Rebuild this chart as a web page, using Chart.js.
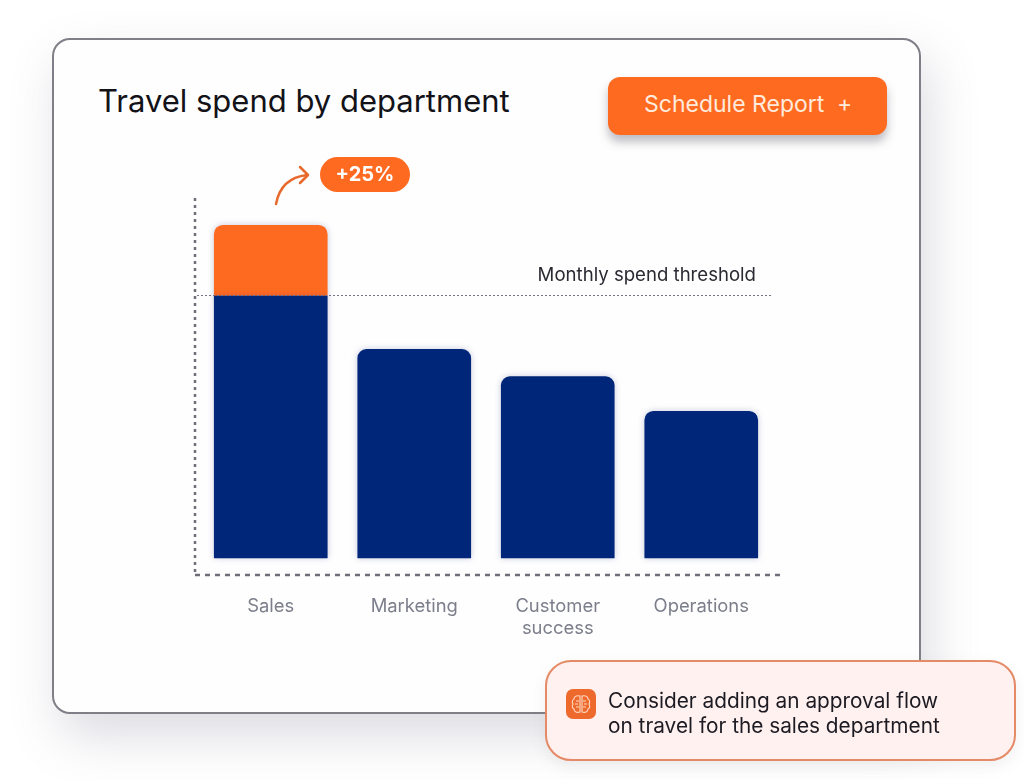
<!DOCTYPE html>
<html>
<head>
<meta charset="utf-8">
<title>Travel spend by department</title>
<script src="https://cdn.jsdelivr.net/npm/chart.js@4/dist/chart.umd.min.js"></script>
<style>
    html, body { margin: 0; padding: 0; background: #fff; }
    body { width: 1024px; height: 780px; position: relative; overflow: hidden; font-family: Inter, sans-serif; }

    .card {
        position: absolute; left: 52px; top: 38px; width: 865px; height: 672px;
        background: #fefefe; border: 2px solid #7f7f88; border-radius: 18px;
        box-shadow: 8px 22px 50px rgba(95, 95, 125, .22);
    }
    .title {
        position: absolute; left: 98px; top: 81px; font-size: 31px; line-height: 40px;
        color: #121218; letter-spacing: 0; white-space: nowrap;
    }
    .button {
        position: absolute; left: 608px; top: 77px; width: 279px; height: 58px;
        background: #ff6a21; border-radius: 12px; color: #ffeadc; font-size: 23px; line-height: 55px;
        box-shadow: 0 7px 10px rgba(70, 70, 90, .35); white-space: nowrap;
    }
    .button span { position: absolute; left: 36px; top: 0; }
    .button b { position: absolute; left: 229px; top: 0; font-weight: 400; }

    #chart { position: absolute; left: 150px; top: 180px; width: 680px; height: 470px; }

    .pill {
        position: absolute; left: 320px; top: 157px; width: 90px; height: 35px;
        background: #ff6a21; border-radius: 18px; color: #fff; text-align: center;
        font-size: 20px; font-weight: 700; line-height: 35px;
    }
    .arrow { position: absolute; left: 265px; top: 160px; }

    .callout {
        position: absolute; left: 545px; top: 660px; width: 467px; height: 97px;
        background: #fff1ef; border: 2px solid #e58a66; border-radius: 26px;
        box-shadow: 0 6px 14px rgba(120, 110, 110, .1);
    }
    .callout p {
        position: absolute; left: 61px; top: 26px; margin: 0; font-size: 20.8px; line-height: 25px;
        color: #1c1a22; white-space: nowrap;
    }
    .icon { position: absolute; left: 19px; top: 27px; }
</style>
</head>
<body>

<div class="card"></div>
<div class="title">Travel spend by department</div>
<div class="button"><span>Schedule Report</span><b>+</b></div>

<canvas id="chart" width="680" height="470"></canvas>

<svg class="arrow" width="60" height="50" fill="none" stroke="#e8692c" stroke-width="2.5" stroke-linecap="round" stroke-linejoin="round">
    <path d="M11 44 C14 28 24 17 42 15"/>
    <path d="M35 7 L43 15 L35 23"/>
</svg>
<div class="pill">+25%</div>

<div class="callout">
    <svg class="icon" width="30" height="30" fill="none" stroke="#ffd9c6" stroke-width="1.1">
        <rect width="30" height="30" rx="7" fill="#ee6a2c" stroke="none"/>
        <path d="M14 7 C10 6 8 8 8 10 C6 11 6 14 7 15 C6 17 6 19 8 20 C8 23 11 24 14 23 Z"/>
        <path d="M16 7 C20 6 22 8 22 10 C24 11 24 14 23 15 C24 17 24 19 22 20 C22 23 19 24 16 23 Z"/>
        <path d="M10 12 H13 M10 18 H13 M17 12 H20 M17 18 H20 M9 15 H12 M18 15 H21"/>
    </svg>
    <p>Consider adding an approval flow<br>on travel for the sales department</p>
</div>

<script>
// chart values, sales base sits just under the threshold
const departments = ["Sales", "Marketing", ["Customer", "success"], "Operations"];
const baseSpend = [100, 79.6, 69.2, 56];
const overSpend = [27, null, null, null];
const monthlyThreshold = 100.4;
const thresholdLabel = "Monthly spend threshold";

const navy = "#00267a";
const orange = "#ff6a21";
const axisGrey = "#6f6d77";

// dashed axes, soft shadow round the bars, threshold line and its label on top
const barDecor = {
    id: "barDecor",
    beforeDatasetsDraw(chart) {
        const ctx = chart.ctx;
        const area = chart.chartArea;

        ctx.save();
        ctx.strokeStyle = axisGrey;
        ctx.lineWidth = 2.5;
        ctx.setLineDash([3, 4]);
        ctx.beginPath();
        ctx.moveTo(area.left - 4, area.top);
        ctx.lineTo(area.left - 4, area.bottom);
        ctx.stroke();
        ctx.setLineDash([5, 5]);
        ctx.beginPath();
        ctx.moveTo(area.left - 4, area.bottom);
        ctx.lineTo(area.right + 7, area.bottom);
        ctx.stroke();
        ctx.restore();

        ctx.save();
        ctx.shadowColor = "rgba(40, 50, 120, .25)";
        ctx.shadowBlur = 6;
    },
    afterDatasetsDraw(chart) {
        const ctx = chart.ctx;
        ctx.restore();

        const area = chart.chartArea;
        const y = Math.round(chart.scales.y.getPixelForValue(monthlyThreshold)) + 0.5;

        ctx.save();
        ctx.strokeStyle = "#7a7085";
        ctx.lineWidth = 1;
        ctx.setLineDash([2, 2]);
        ctx.beginPath();
        ctx.moveTo(area.left - 2, y);
        ctx.lineTo(area.right, y);
        ctx.stroke();

        ctx.fillStyle = "#2a2a33";
        ctx.font = "18.6px Inter, sans-serif";
        ctx.textAlign = "right";
        ctx.textBaseline = "alphabetic";
        ctx.fillText(thresholdLabel, area.right - 17, y - 15);
        ctx.restore();
    }
};

new Chart(document.querySelector("#chart"), {
    type: "bar",
    data: {
        labels: departments,
        datasets: [
            {
                label: "Spend",
                data: baseSpend,
                backgroundColor: navy,
                barThickness: 113,
                borderSkipped: false,
                borderRadius(ctx) {
                    const r = overSpend[ctx.dataIndex] ? 0 : 9;
                    return { topLeft: r, topRight: r, bottomLeft: 0, bottomRight: 0 };
                }
            },
            {
                label: "Over threshold",
                data: overSpend,
                backgroundColor: orange,
                barThickness: 113,
                borderSkipped: false,
                borderRadius: { topLeft: 9, topRight: 9, bottomLeft: 0, bottomRight: 0 }
            }
        ]
    },
    options: {
        responsive: false,
        animation: false,
        devicePixelRatio: 1,
        layout: { padding: { top: 18, right: 57, bottom: 0, left: 0 } },
        plugins: {
            legend: { display: false },
            tooltip: { enabled: false }
        },
        scales: {
            x: {
                stacked: true,
                grid: { display: false },
                border: { display: false },
                afterFit(scale) { scale.height = 75; },
                ticks: {
                    color: "#7c7f8b",
                    padding: 13,
                    maxRotation: 0,
                    font: { family: "Inter, sans-serif", size: 18.4, lineHeight: 1.17 }
                }
            },
            y: {
                stacked: true,
                min: -6.5,
                max: 137.4,
                grid: { display: false },
                border: { display: false },
                afterFit(scale) { scale.width = 49; },
                ticks: { display: false }
            }
        }
    },
    plugins: [barDecor]
});
</script>
</body>
</html>
